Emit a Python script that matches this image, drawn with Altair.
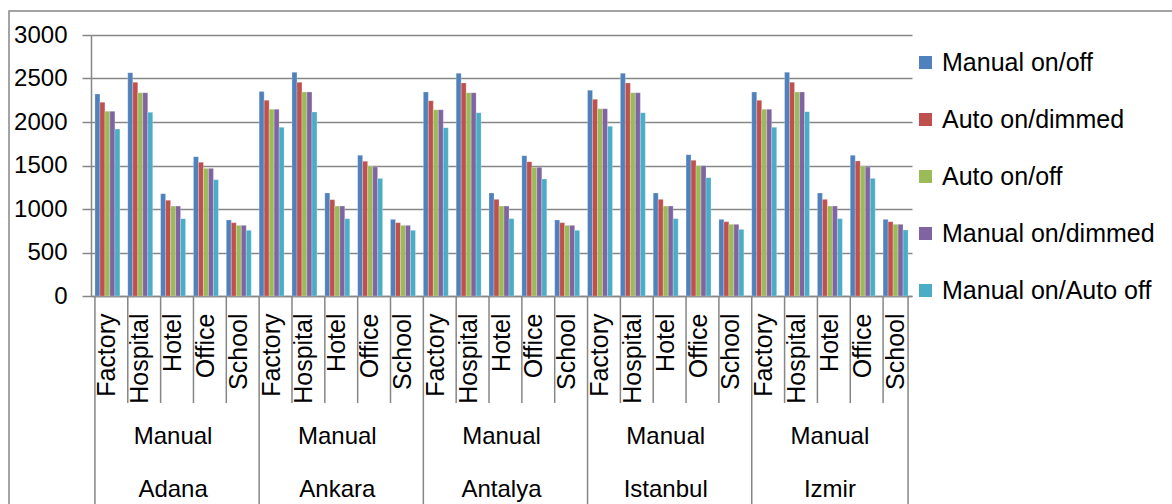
import altair as alt
import pandas as pd

cities = ["Adana", "Ankara", "Antalya", "Istanbul", "Izmir"]
buildings = ["Factory", "Hospital", "Hotel", "Office", "School"]
group_label = "Manual"
series = ["Manual on/off", "Auto on/dimmed", "Auto on/off", "Manual on/dimmed", "Manual on/Auto off"]
colors = ["#4F81BD", "#C0504D", "#9BBB59", "#8064A2", "#4BACC6"]

# values per series, ordered city by city, building by building
manual_onoff = [2322, 2567, 1176, 1602, 874, 2352, 2571, 1184, 1617, 881, 2345, 2559, 1184, 1613, 874,
                2364, 2559, 1184, 1625, 881, 2345, 2571, 1184, 1617, 881]
auto_dimmed = [2226, 2456, 1100, 1536, 843, 2249, 2456, 1107, 1548, 843, 2245, 2448, 1111, 1544, 843,
               2261, 2448, 1111, 1559, 854, 2249, 2456, 1111, 1552, 854]
auto_onoff = [2123, 2337, 1034, 1467, 812, 2146, 2345, 1034, 1490, 812, 2142, 2337, 1034, 1479, 812,
              2153, 2337, 1034, 1498, 824, 2146, 2345, 1034, 1490, 824]
manual_dimmed = [2123, 2337, 1034, 1467, 812, 2146, 2345, 1034, 1483, 812, 2142, 2337, 1034, 1479, 812,
                 2153, 2337, 1034, 1498, 824, 2146, 2345, 1034, 1483, 824]
manual_auto_off = [1920, 2111, 889, 1337, 755, 1939, 2115, 889, 1352, 755, 1935, 2107, 889, 1345, 755,
                   1950, 2107, 889, 1360, 766, 1939, 2119, 889, 1352, 759]
y_ticks = [0, 500, 1000, 1500, 2000, 2500, 3000]

all_values = [manual_onoff, auto_dimmed, auto_onoff, manual_dimmed, manual_auto_off]
slots = [f"{c}|{b}" for c in cities for b in buildings]

rows = []
for s, vals in zip(series, all_values):
    for slot, v in zip(slots, vals):
        rows.append({"slot": slot, "series": s, "value": v})
df = pd.DataFrame(rows)

W, H = 821, 261
FONT = "Liberation Sans"
GRID = "#868686"

x_scale = alt.Scale(domain=slots, paddingInner=0.24, paddingOuter=0.12)

bars = alt.Chart(df).mark_bar(stroke="#ffffff", strokeWidth=0.4, strokeOpacity=0.6).encode(
    x=alt.X("slot:N", scale=x_scale, sort=slots,
            axis=alt.Axis(title=None, labelAngle=-90, labelExpr="split(datum.value, '|')[1]",
                          ticks=False, labelFontSize=25, labelPadding=17, labelColor="#000000",
                          domainColor=GRID, domainWidth=1.5, labelFont=FONT, labelLimit=0)),
    xOffset=alt.XOffset("series:N", sort=series, scale=alt.Scale(paddingInner=0, paddingOuter=0)),
    y=alt.Y("value:Q", scale=alt.Scale(domain=[0, 3000], nice=False),
            axis=alt.Axis(title=None, values=y_ticks, format="d", tickSize=9, tickColor=GRID, tickWidth=1.5,
                          labelFontSize=24, labelPadding=15, labelColor="#000000", labelFont=FONT,
                          gridColor=GRID, gridWidth=1.5, domainColor=GRID, domainWidth=1.5)),
    color=alt.Color("series:N", sort=series, scale=alt.Scale(domain=series, range=colors),
                    legend=alt.Legend(title=None, orient="none", legendX=822, legendY=15,
                                      symbolType="square", symbolSize=169, symbolStrokeWidth=0,
                                      labelFontSize=25, labelFont=FONT, labelColor="#000000",
                                      labelLimit=0, rowPadding=31, labelOffset=4, padding=0)),
)

# separators of the multi-level axis
inner_df = pd.DataFrame({"slot": [f"{c}|{b}" for c in cities for b in buildings[1:]]})
city_df = pd.DataFrame({"slot": [f"{c}|{buildings[0]}" for c in cities]})
end_df = pd.DataFrame({"slot": [slots[-1]]})

inner_rules = alt.Chart(inner_df).mark_rule(color=GRID, strokeWidth=1.5).encode(
    x=alt.X("slot:N", sort=slots, bandPosition=0), y=alt.value(H), y2=alt.value(H + 107))
city_rules = alt.Chart(city_df).mark_rule(color=GRID, strokeWidth=1.5).encode(
    x=alt.X("slot:N", sort=slots, bandPosition=0), y=alt.value(H), y2=alt.value(H + 230))
end_rule = alt.Chart(end_df).mark_rule(color=GRID, strokeWidth=1.5).encode(
    x=alt.X("slot:N", sort=slots, bandPosition=1), y=alt.value(H), y2=alt.value(H + 230))

label_df = pd.DataFrame({"slot": [f"{c}|{buildings[2]}" for c in cities],
                         "city": cities, "group": [group_label] * len(cities)})
group_text = alt.Chart(label_df).mark_text(fontSize=24, font=FONT, color="#000000", baseline="middle").encode(
    x=alt.X("slot:N", sort=slots), y=alt.value(H + 141), text="group:N")
city_text = alt.Chart(label_df).mark_text(fontSize=24, font=FONT, color="#000000", baseline="middle").encode(
    x=alt.X("slot:N", sort=slots), y=alt.value(H + 194), text="city:N")

frame = alt.Chart(pd.DataFrame({"k": [0]})).mark_rect(fill="transparent", stroke=GRID, strokeWidth=1.5).encode(
    x=alt.value(-82), x2=alt.value(1095), y=alt.value(-24), y2=alt.value(490))

chart = alt.layer(frame, bars, inner_rules, city_rules, end_rule, group_text, city_text).properties(
    width=W, height=H,
    autosize=alt.AutoSizeParams(type="none"),
    padding={"left": 91, "top": 35, "right": 260, "bottom": 208},
    background="#ffffff",
).configure_view(stroke=None).configure_axis(grid=True).configure_axisX(grid=False)

chart.save("out.html", embed_options={"renderer": "svg", "actions": False})
